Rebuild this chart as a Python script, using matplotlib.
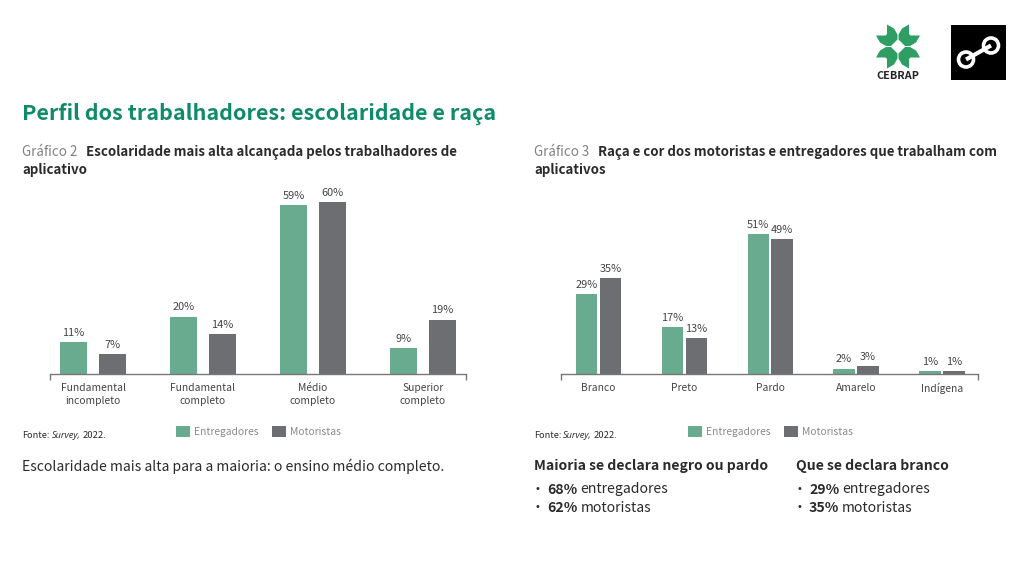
import matplotlib
matplotlib.use('Agg')
import matplotlib.pyplot as plt
from matplotlib.patches import Circle, Polygon, Rectangle

plt.rcParams['font.family'] = ['Noto Sans CJK SC', 'DejaVu Sans']

# grafico 2
escolaridade = ['Fundamental\nincompleto', 'Fundamental\ncompleto', 'Médio\ncompleto', 'Superior\ncompleto']
esc_entregadores = [11, 20, 59, 9]
esc_motoristas = [7, 14, 60, 19]

# grafico 3
raca = ['Branco', 'Preto', 'Pardo', 'Amarelo', 'Indígena']
raca_entregadores = [29, 17, 51, 2, 1]
raca_motoristas = [35, 13, 49, 3, 1]

VERDE = '#68ab8f'
CINZA = '#6d6e71'
W, H = 1024, 576


def px_box(x0, y0, x1, y1):
    # caixa em pixels (origem no topo) para fracao da figura
    return [x0 / W, 1 - y1 / H, (x1 - x0) / W, (y1 - y0) / H]


def grafico(fig, box, cats, a, b, ymax, xlim, width, offset, legend_anchor):
    ax = fig.add_axes(px_box(*box))
    xs = range(len(cats))
    b1 = ax.bar([x - offset for x in xs], a, width, color=VERDE, label='Entregadores')
    b2 = ax.bar([x + offset for x in xs], b, width, color=CINZA, label='Motoristas')
    ax.bar_label(b1, fmt='%d%%', padding=3, fontsize=7.9, color='#444444')
    ax.bar_label(b2, fmt='%d%%', padding=3, fontsize=7.9, color='#444444')
    ax.set_xlim(*xlim)
    ax.set_ylim(0, ymax)
    ax.set_yticks([])
    for s in ['top', 'left', 'right']:
        ax.spines[s].set_visible(False)
    ax.spines['bottom'].set_color('#777777')
    ax.spines['bottom'].set_linewidth(1.0)
    ax.set_xticks(list(xs))
    ax.set_xticklabels(cats, fontsize=7.4, color='#444444', linespacing=1.45)
    ax.tick_params(axis='x', length=0, pad=6.2)
    ax.set_xticks(list(xlim), minor=True)
    ax.tick_params(axis='x', which='minor', length=4.5, width=1.0, color='#777777')
    ax.legend(loc='upper left', bbox_to_anchor=legend_anchor, bbox_transform=fig.transFigure,
              ncol=2, frameon=False, fontsize=7.4, labelcolor='#8a8a8a', handlelength=1.36,
              handleheight=1.36, handletextpad=0.4, columnspacing=1.25, borderpad=0, borderaxespad=0)
    return ax


def logos(bg):
    # cebrap: quadrante superior esquerdo, espelhado nos outros tres
    quadrante = [(-11, -22), (-4, -18), (-0.5, -12), (-0.5, -7), (-7, -0.5), (-12, -0.5),
                 (-18, -4), (-22, -11), (-12.5, -11), (-11, -12.5)]
    cx, cy = 898, 46.5
    for sx in (1, -1):
        for sy in (1, -1):
            pts = [(cx + sx * x, cy + sy * y) for x, y in quadrante]
            bg.add_patch(Polygon(pts, closed=True, color='#2e9e63', lw=0))
    bg.text(898, 76, 'CEBRAP', ha='center', va='center', fontsize=7.8, fontweight='bold', color='#222222')
    # quadrado preto
    bg.add_patch(Rectangle((951, 25), 55, 55, color='black', lw=0))
    bg.plot([966, 991], [59.5, 45.5], color='white', lw=3, solid_capstyle='butt')
    bg.add_patch(Circle((966, 59.5), 7.5, fc='black', ec='white', lw=2.6))
    bg.add_patch(Circle((991, 45.5), 7.5, fc='black', ec='white', lw=2.6))


fig = plt.figure(figsize=(W / 100, H / 100), dpi=100)
bg = fig.add_axes([0, 0, 1, 1])
bg.set_xlim(0, W)
bg.set_ylim(H, 0)
bg.axis('off')

logos(bg)

bg.text(22.5, 113.5, 'Perfil dos trabalhadores: escolaridade e raça', fontsize=15.5, fontweight='bold',
        color='#0f8a6a', va='center')

TXT = '#2b2b2b'
bg.text(22.5, 152, 'Gráfico 2', fontsize=9.6, color='#808080', va='center')
bg.text(86, 152, 'Escolaridade mais alta alcançada pelos trabalhadores de', fontsize=9.6, fontweight='bold', color=TXT, va='center')
bg.text(22.5, 170, 'aplicativo', fontsize=9.6, fontweight='bold', color=TXT, va='center')
bg.text(534, 152, 'Gráfico 3', fontsize=9.6, color='#808080', va='center')
bg.text(598, 152, 'Raça e cor dos motoristas e entregadores que trabalham com', fontsize=9.55, fontweight='bold', color=TXT, va='center')
bg.text(534, 170, 'aplicativos', fontsize=9.6, fontweight='bold', color=TXT, va='center')

for x in (22.5, 534):
    bg.text(x, 435, 'Fonte:', fontsize=6.6, color=TXT, va='center')
    bg.text(x + 29, 435, 'Survey,', fontsize=6.6, style='italic', family='Open Sans', color=TXT, va='center')
    bg.text(x + 60, 435, '2022.', fontsize=6.8, color=TXT, va='center')

bg.text(22.5, 466, 'Escolaridade mais alta para a maioria: o ensino médio completo.', fontsize=10.1, color=TXT, va='center')

bg.text(534.5, 466, 'Maioria se declara negro ou pardo', fontsize=10.1, fontweight='bold', color=TXT, va='center')
bg.text(796, 466, 'Que se declara branco', fontsize=10.1, fontweight='bold', color=TXT, va='center')
colunas = [(534.5, [('68%', 'entregadores'), ('62%', 'motoristas')]),
           (796, [('29%', 'entregadores'), ('35%', 'motoristas')])]
for x, linhas in colunas:
    for y, (pct, nome) in zip((489.5, 507.5), linhas):
        bg.text(x, y, '•', fontsize=7, family='DejaVu Sans', color=TXT, va='center')
        bg.text(x + 13, y, pct, fontsize=10.1, fontweight='bold', color=TXT, va='center')
        bg.text(x + 46, y, nome, fontsize=10.1, color=TXT, va='center')

grafico(fig, (50, 188, 466, 374), escolaridade, esc_entregadores, esc_motoristas, 186 / 2.867,
        (-43 / 110, 3 + 43 / 110), 27 / 110, 19.5 / 110, (176 / W, 1 - 425.5 / H))
grafico(fig, (561, 188, 978, 374), raca, raca_entregadores, raca_motoristas, 186 / 2.745,
        (-37.5 / 86, 4 + 36 / 86), 21.5 / 86, 12 / 86, (688 / W, 1 - 425.5 / H))

fig.savefig('out.png', dpi=100, facecolor='white')
